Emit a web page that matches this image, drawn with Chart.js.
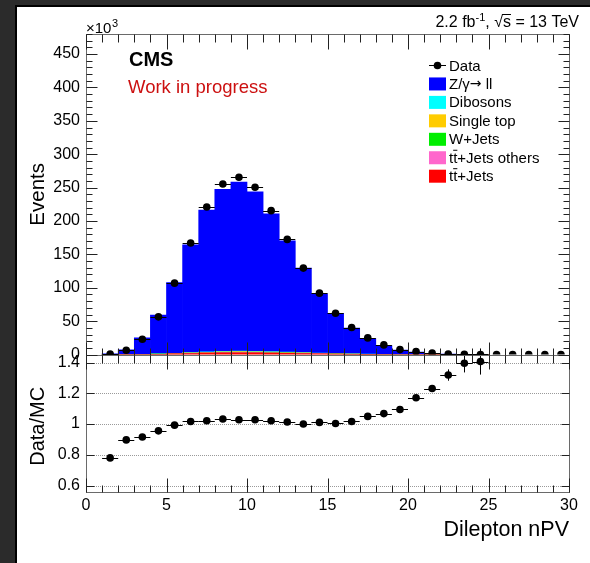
<!DOCTYPE html>
<html>
<head>
<meta charset="utf-8">
<script src="https://cdn.jsdelivr.net/npm/chart.js@4.4.0/dist/chart.umd.min.js"></script>
<style>
  html, body { margin: 0; padding: 0; background: #2b2b2b; overflow: hidden; }
  #frame { position: absolute; left: 15px; top: 5px; width: 573px; height: 556px; background: #fff;
           border-left: 2px solid #000; border-top: 2px solid #000; }
  #c { position: absolute; left: 0; top: 0; }
</style>
</head>
<body>
<div id="frame"></div>
<canvas id="c" width="590" height="563"></canvas>
<script>
// bin centres (Dilepton nPV), events in units of 10^3
var binCenters = [1.5, 2.5, 3.5, 4.5, 5.5, 6.5, 7.5, 8.5, 9.5, 10.5, 11.5, 12.5, 13.5, 14.5, 15.5,
                  16.5, 17.5, 18.5, 19.5, 20.5, 21.5, 22.5, 23.5, 24.5, 25.5, 26.5, 27.5, 28.5, 29.5];
var dataCounts = [1.0, 6.5, 23.0, 56.5, 107.0, 167.0, 221.0, 255.5, 265.5, 250.5, 215.5, 172.5, 129.5, 92.0, 62.0,
                  40.5, 25.0, 14.5, 7.5, 4.5, 2.2, 1.0, 0.45, 0.2, 0.1, 0.05, 0.03, 0.02, 0.01];

// MC stack (first 24 bins)
var ttJets    = [0.01, 0.05, 0.2, 0.5, 1.0, 1.6, 2.2, 2.6, 2.8, 2.7, 2.4, 2.0, 1.6, 1.2, 0.85, 0.55, 0.35, 0.2, 0.12, 0.07, 0.04, 0.02, 0.01, 0.005];
var ttOthers  = [0, 0.01, 0.03, 0.08, 0.15, 0.22, 0.3, 0.35, 0.37, 0.36, 0.32, 0.27, 0.22, 0.16, 0.11, 0.07, 0.05, 0.03, 0.02, 0.01, 0.005, 0, 0, 0];
var wJets     = [0, 0.01, 0.05, 0.1, 0.18, 0.25, 0.3, 0.35, 0.38, 0.35, 0.3, 0.25, 0.2, 0.15, 0.1, 0.07, 0.04, 0.02, 0.01, 0.01, 0, 0, 0, 0];
var singleTop = [0, 0.02, 0.08, 0.2, 0.35, 0.5, 0.65, 0.75, 0.8, 0.75, 0.68, 0.57, 0.45, 0.33, 0.23, 0.15, 0.1, 0.06, 0.03, 0.02, 0.01, 0, 0, 0];
var dibosons  = [0.01, 0.03, 0.1, 0.2, 0.35, 0.5, 0.65, 0.75, 0.78, 0.75, 0.68, 0.57, 0.45, 0.34, 0.24, 0.16, 0.1, 0.06, 0.03, 0.02, 0.01, 0.005, 0, 0];
var zJets     = [1.26, 7.13, 24.6, 58.0, 105.8, 161.1, 212.1, 242.5, 253.2, 238.8, 206.5, 166.6, 126.6, 88.8, 60.3,
                 38.8, 23.2, 13.2, 6.64, 3.71, 1.72, 0.735, 0.31, 0.135];

// Data/MC ratio
var ratio    = [0.78, 0.897, 0.916, 0.956, 0.993, 1.017, 1.022, 1.033, 1.028, 1.028, 1.022, 1.013, 1.0, 1.011, 1.004,
                1.017, 1.05, 1.068, 1.095, 1.171, 1.231, 1.319, 1.396, 1.407];
var ratioErr = [0.01, 0.005, 0.003, 0.002, 0.002, 0.002, 0.002, 0.002, 0.002, 0.002, 0.002, 0.002, 0.002, 0.003, 0.004,
                0.005, 0.006, 0.008, 0.012, 0.016, 0.022, 0.037, 0.06, 0.085];

var xTicks = [0, 5, 10, 15, 20, 25, 30];
var yTicksMain = [0, 50, 100, 150, 200, 250, 300, 350, 400, 450];
var yTicksRatio = [0.6, 0.8, 1.0, 1.2, 1.4];
var binHalfWidth = 0.5;

var FONT = "'Liberation Sans', Arial, Helvetica, sans-serif";

function pts(vals) {
	return vals.map(function(v, i) { return {x: binCenters[i], y: v}; });
}
function mcSet(label, vals, color) {
	return {
		type: 'bar', label: label, data: pts(vals), stack: 'mc', legend: 'box',
		backgroundColor: color, borderWidth: 0,
		barPercentage: 1.0, categoryPercentage: 1.0, yAxisID: 'y'
	};
}

function line(ctx, x0, y0, x1, y1) {
	ctx.beginPath(); ctx.moveTo(x0, y0); ctx.lineTo(x1, y1); ctx.stroke();
}
function px(v) { return Math.round(v) + 0.5; }

var dataSet = {
	type: 'line', label: 'Data', legend: 'marker', data: pts(dataCounts), yAxisID: 'y',
	showLine: false, pointRadius: 3.8, pointBackgroundColor: '#000', pointBorderColor: '#000', pointBorderWidth: 0
};
var ratioSet = {
	type: 'line', label: 'Data/MC', data: pts(ratio), yAxisID: 'y2',
	showLine: false, pointRadius: 3.8, pointBackgroundColor: '#000', pointBorderColor: '#000', pointBorderWidth: 0
};
// stacked bottom to top
var mcSets = [
	mcSet('tt+Jets', ttJets, '#ff0000'),
	mcSet('tt+Jets others', ttOthers, '#ff66cc'),
	mcSet('W+Jets', wJets, '#00ee00'),
	mcSet('Single top', singleTop, '#ffcc00'),
	mcSet('Dibosons', dibosons, '#00ffff'),
	mcSet('Z/\u03b3\u2192 ll', zJets, '#0000ff')
];
var legendEntries = [dataSet].concat(mcSets.slice().reverse());

var rootStyle = {
	id: 'rootStyle',
	beforeDatasetsDraw: function(chart) {
		var ctx = chart.ctx, x = chart.scales.x, y2 = chart.scales.y2;
		ctx.save();
		ctx.strokeStyle = '#9a9a9a'; ctx.lineWidth = 1; ctx.setLineDash([1, 1]);
		yTicksRatio.forEach(function(v) {
			var py = px(y2.getPixelForValue(v));
			line(ctx, x.left, py, x.right, py);
		});
		ctx.restore();
	},
	beforeDatasetDraw: function(chart, args) {
		if (args.index !== 1) return;
		var ctx = chart.ctx, x = chart.scales.x, y = chart.scales.y, y2 = chart.scales.y2;
		ctx.save();
		ctx.strokeStyle = '#000'; ctx.lineWidth = 1;
		dataCounts.forEach(function(v, i) {
			var py = px(y.getPixelForValue(v));
			line(ctx, x.getPixelForValue(binCenters[i] - binHalfWidth), py, x.getPixelForValue(binCenters[i] + binHalfWidth), py);
		});
		ratio.forEach(function(v, i) {
			var py = px(y2.getPixelForValue(v)), cx = px(x.getPixelForValue(binCenters[i]));
			line(ctx, x.getPixelForValue(binCenters[i] - binHalfWidth), py, x.getPixelForValue(binCenters[i] + binHalfWidth), py);
			line(ctx, cx, y2.getPixelForValue(v + ratioErr[i]), cx, y2.getPixelForValue(v - ratioErr[i]));
		});
		ctx.restore();
	},
	afterDraw: function(chart) {
		var ctx = chart.ctx, x = chart.scales.x, y = chart.scales.y, y2 = chart.scales.y2;
		var L = px(x.left), R = px(x.right), T = px(y.top), M = px(y.bottom), B = px(y2.bottom);
		ctx.save();
		ctx.lineWidth = 1;
		// frames
		ctx.strokeStyle = '#6a6a6a';
		ctx.strokeRect(L, T, R - L, M - T);
		ctx.strokeRect(L, M, R - L, B - M);
		// ticks
		ctx.strokeStyle = '#222';
		for (var u = 0; u <= 30; u++) {
			var maj = u % 5 === 0, xx = px(x.getPixelForValue(u));
			line(ctx, xx, T, xx, T + (maj ? 15 : 8));
			line(ctx, xx, M, xx, M - (maj ? 13 : 7));
			line(ctx, xx, M, xx, M + (maj ? 14 : 8));
			line(ctx, xx, B, xx, B - (maj ? 14 : 7));
		}
		for (var v = 0; v <= y.max; v += 10) {
			var mj = v % 50 === 0, yy = px(y.getPixelForValue(v));
			line(ctx, L, yy, L + (mj ? 11 : 6), yy);
			line(ctx, R, yy, R - (mj ? 11 : 6), yy);
		}
		yTicksRatio.forEach(function(v) {
			var yy = px(y2.getPixelForValue(v));
			line(ctx, L, yy, L + 8, yy);
			line(ctx, R, yy, R - 8, yy);
		});

		// texts
		ctx.fillStyle = '#000';
		ctx.textBaseline = 'alphabetic';
		ctx.textAlign = 'left';
		ctx.font = '15px ' + FONT;
		ctx.fillText('\u00d710', L - 0.5, 33);
		var w10 = ctx.measureText('\u00d710').width;
		ctx.font = '11px ' + FONT;
		ctx.fillText('3', L + w10, 27);

		ctx.font = 'bold 20px ' + FONT;
		ctx.fillText('CMS', 129, 66);
		ctx.fillStyle = '#cc1010';
		ctx.font = '18.5px ' + FONT;
		ctx.fillText('Work in progress', 128, 93);

		// lumi label
		ctx.fillStyle = '#000';
		var big = '16px ' + FONT, small = '11px ' + FONT;
		ctx.font = big; var wa = ctx.measureText('2.2 fb').width;
		ctx.font = small; var wb = ctx.measureText('-1').width;
		ctx.font = big; var wc = ctx.measureText(', ').width, wd = ctx.measureText('\u221a').width,
			we = ctx.measureText('s').width, wf = ctx.measureText(' = 13 TeV').width;
		var sx = 579 - (wa + wb + wc + wd + we + wf), by = 27;
		ctx.fillText('2.2 fb', sx, by); sx += wa;
		ctx.font = small; ctx.fillText('-1', sx, by - 6); sx += wb;
		ctx.font = big; ctx.fillText(', ', sx, by); sx += wc;
		ctx.fillText('\u221a', sx, by); sx += wd;
		ctx.fillText('s', sx, by);
		ctx.strokeStyle = '#000';
		line(ctx, sx - 1, by - 12.5, sx + we, by - 12.5);
		sx += we;
		ctx.fillText(' = 13 TeV', sx, by);

		// axis titles
		ctx.font = '20.5px ' + FONT;
		ctx.textAlign = 'center'; ctx.textBaseline = 'middle';
		ctx.save(); ctx.translate(38, (y.top + y.bottom) / 2); ctx.rotate(-Math.PI / 2);
		ctx.fillText('Events', 0, 0); ctx.restore();
		ctx.font = '20px ' + FONT;
		ctx.save(); ctx.translate(38, (y2.top + y2.bottom) / 2 + 3); ctx.rotate(-Math.PI / 2);
		ctx.fillText('Data/MC', 0, 0); ctx.restore();
		ctx.font = '21.5px ' + FONT;
		ctx.textAlign = 'right'; ctx.textBaseline = 'alphabetic';
		ctx.fillText('Dilepton nPV', x.right, 536);

		// legend
		ctx.textAlign = 'left'; ctx.textBaseline = 'alphabetic';
		var lx = 429, ly = 65, dy = 18.45, lf = '15px ' + FONT;
		legendEntries.forEach(function(ds) {
			ctx.font = lf;
			if (ds.legend === 'marker') {
				ctx.strokeStyle = '#000'; ctx.fillStyle = '#000';
				line(ctx, lx, px(ly), lx + 17, px(ly));
				ctx.beginPath(); ctx.arc(lx + 8.5, ly + 0.5, 3.8, 0, 2 * Math.PI); ctx.fill();
			} else {
				ctx.fillStyle = ds.backgroundColor;
				ctx.fillRect(lx, ly - 6, 17, 13);
			}
			ctx.fillStyle = '#000'; ctx.strokeStyle = '#000';
			var tx = lx + 20, base = ly + 5.5;
			var lab = ds.label;
			if (lab.indexOf('tt') === 0) {
				var wt = ctx.measureText('t').width;
				ctx.fillText('tt', tx, base);
				line(ctx, tx + wt, base - 12.5, tx + 2 * wt, base - 12.5);
				ctx.fillText(lab.slice(2), tx + 2 * wt, base);
			} else if (lab.indexOf('\u2192') > 0) {
				var parts = lab.split('\u2192');
				ctx.fillText(parts[0], tx, base);
				var ax = tx + ctx.measureText(parts[0]).width;
				ctx.font = '14px "DejaVu Sans", sans-serif';
				ctx.fillText('\u2192', ax, base - 0.5);
				ax += ctx.measureText('\u2192').width;
				ctx.font = lf;
				ctx.fillText(parts[1], ax, base);
			} else {
				ctx.fillText(lab, tx, base);
			}
			ly += dy;
		});
		ctx.restore();
	}
};

var datasets = [dataSet, ratioSet].concat(mcSets);

var tickFont = {family: FONT, size: 16};
var ctx = document.getElementById('c').getContext('2d');
var chart = new Chart(ctx, {
	type: 'bar',
	data: {datasets: datasets},
	options: {
		responsive: false,
		animation: false,
		events: [],
		layout: {padding: {left: 26, right: 21, top: 34, bottom: 31}},
		plugins: {legend: {display: false}, tooltip: {enabled: false}},
		scales: {
			x: {
				type: 'linear', min: 0, max: 30, offset: false, position: 'bottom',
				grid: {display: false, drawTicks: false}, border: {display: false},
				afterBuildTicks: function(s) { s.ticks = xTicks.map(function(v) { return {value: v}; }); },
				ticks: {font: tickFont, color: '#000', padding: 4, maxRotation: 0, autoSkip: false},
				afterFit: function(s) { s.height = 40; }
			},
			y: {
				type: 'linear', min: 0, max: 480, position: 'left', stack: 'pads', stackWeight: 0.7, weight: 1,
				grid: {display: false, drawTicks: false}, border: {display: false},
				afterBuildTicks: function(s) { s.ticks = yTicksMain.map(function(v) { return {value: v}; }); },
				ticks: {font: tickFont, color: '#000', padding: 6, autoSkip: false,
					callback: function(v) { return String(v); }},
				afterFit: function(s) { s.width = 60; }
			},
			y2: {
				type: 'linear', min: 0.558, max: 1.452, position: 'left', stack: 'pads', stackWeight: 0.3, weight: 0,
				grid: {display: false, drawTicks: false}, border: {display: false},
				afterBuildTicks: function(s) { s.ticks = yTicksRatio.map(function(v) { return {value: v}; }); },
				ticks: {font: tickFont, color: '#000', padding: 6, autoSkip: false,
					callback: function(v) { return String(+v.toFixed(2)); }},
				afterFit: function(s) { s.width = 60; }
			}
		}
	},
	plugins: [rootStyle]
});
</script>
</body>
</html>
